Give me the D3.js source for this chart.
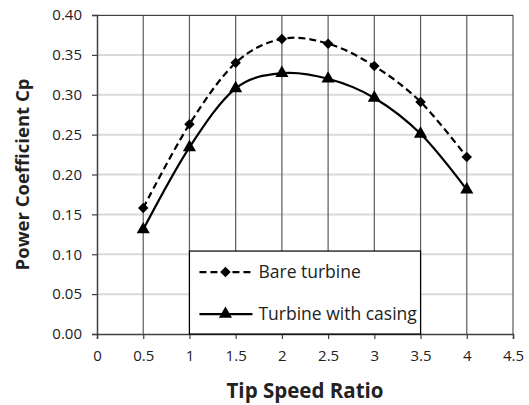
<!DOCTYPE html>
<html>
<head>
<meta charset="utf-8">
<script src="https://cdn.jsdelivr.net/npm/d3@7"></script>
<style>
  body { margin: 0; background: #fff; }
  svg text { font-family: "Open Sans", Lato, sans-serif; fill: #222; }
</style>
</head>
<body>
<div id="chart"></div>
<script>
// Data
const tsr = [0.5, 1, 1.5, 2, 2.5, 3, 3.5, 4];
const bareTurbine = [0.158, 0.263, 0.340, 0.370, 0.364, 0.336, 0.291, 0.222];
const withCasing = [0.131, 0.234, 0.308, 0.327, 0.320, 0.296, 0.251, 0.181];
const xTicks = [0, 0.5, 1, 1.5, 2, 2.5, 3, 3.5, 4, 4.5];
const yTicks = [0, 0.05, 0.10, 0.15, 0.20, 0.25, 0.30, 0.35, 0.40];
const seriesNames = ["Bare turbine", "Turbine with casing"];

const margin = {top: 15, right: 16, bottom: 71, left: 97};
const width = 529 - margin.left - margin.right;
const height = 405 - margin.top - margin.bottom;

const svg = d3.select("#chart")
    .append("svg")
    .attr("width", 529)
    .attr("height", 405)
    .append("g")
    .attr("transform", `translate(${margin.left},${margin.top})`);

const x = d3.scaleLinear().domain([0, 4.5]).range([0, width]);
const y = d3.scaleLinear().domain([0, 0.4]).range([height, 0]);

// horizontal gridlines (light)
svg.append("g")
    .selectAll("line")
    .data(yTicks.slice(1))
    .enter()
    .append("line")
    .attr("x1", 0).attr("x2", width)
    .attr("y1", d => y(d)).attr("y2", d => y(d))
    .attr("stroke", "#d9d9d9")
    .attr("stroke-width", 2);

// vertical gridlines (dark)
svg.append("g")
    .selectAll("line")
    .data(xTicks.slice(1))
    .enter()
    .append("line")
    .attr("x1", d => x(d)).attr("x2", d => x(d))
    .attr("y1", 0).attr("y2", height)
    .attr("stroke", "#595959")
    .attr("stroke-width", 1.2);

// top border
svg.append("line")
    .attr("x1", 0).attr("x2", width)
    .attr("y1", 0.5).attr("y2", 0.5)
    .attr("stroke", "#404040")
    .attr("stroke-width", 1.2);

// axes
const xAxis = svg.append("g")
    .attr("transform", `translate(0,${height})`)
    .call(d3.axisBottom(x).tickValues(xTicks).tickSize(5).tickPadding(11)
        .tickFormat(d => d3.format("")(d)));
const yAxis = svg.append("g")
    .call(d3.axisLeft(y).tickValues(yTicks).tickSize(5).tickPadding(10)
        .tickFormat(d3.format(".2f")));

[xAxis, yAxis].forEach(a => {
    a.select(".domain").attr("stroke", "#404040").attr("stroke-width", 1.5);
    a.selectAll(".tick line").attr("stroke", "#404040").attr("stroke-width", 1.2);
    a.selectAll("text").style("font-size", "15px").attr("fill", "#222");
});

// lines
const line = d3.line()
    .x((d, i) => x(tsr[i]))
    .y(d => y(d))
    .curve(d3.curveCatmullRom.alpha(0));

svg.append("path")
    .datum(bareTurbine)
    .attr("d", line)
    .attr("fill", "none")
    .attr("stroke", "#000")
    .attr("stroke-width", 2.2)
    .attr("stroke-dasharray", "7,4");

svg.append("path")
    .datum(withCasing)
    .attr("d", line)
    .attr("fill", "none")
    .attr("stroke", "#000")
    .attr("stroke-width", 2.2);

const diamond = d3.symbol().type(d3.symbolDiamond2).size(70);
const triangle = d3.symbol().type(d3.symbolTriangle).size(75);

svg.selectAll(".dia")
    .data(bareTurbine)
    .enter()
    .append("path")
    .attr("class", "dia")
    .attr("transform", (d, i) => `translate(${x(tsr[i])},${y(d)})`)
    .attr("d", diamond)
    .attr("fill", "#000");

svg.selectAll(".tri")
    .data(withCasing)
    .enter()
    .append("path")
    .attr("class", "tri")
    .attr("transform", (d, i) => `translate(${x(tsr[i])},${y(d)})`)
    .attr("d", triangle)
    .attr("fill", "#000");

// legend
const lx0 = x(1), lx1 = x(3.5);
const ly0 = y(0.104), ly1 = y(0);
const legend = svg.append("g");
legend.append("rect")
    .attr("x", lx0).attr("y", ly0)
    .attr("width", lx1 - lx0).attr("height", ly1 - ly0)
    .attr("fill", "#fff")
    .attr("stroke", "#000")
    .attr("stroke-width", 1.2);

const rows = [
    {name: seriesNames[0], dash: "7,4", sym: diamond, dy: 21},
    {name: seriesNames[1], dash: null, sym: triangle, dy: 63}
];
rows.forEach(r => {
    const g = legend.append("g").attr("transform", `translate(${lx0},${ly0 + r.dy})`);
    g.append("line")
        .attr("x1", 10).attr("x2", 63)
        .attr("stroke", "#000").attr("stroke-width", 2.2)
        .attr("stroke-dasharray", r.dash);
    g.append("path").attr("d", r.sym).attr("fill", "#000")
        .attr("transform", "translate(36,0)");
    g.append("text")
        .attr("x", 69).attr("dy", "0.35em")
        .style("font-size", "17.5px")
        .text(r.name);
});

// axis titles
svg.append("text")
    .attr("text-anchor", "middle")
    .attr("x", width / 2)
    .attr("y", height + 64)
    .style("font-size", "20.5px")
    .style("font-weight", "bold")
    .text("Tip Speed Ratio");

svg.append("text")
    .attr("text-anchor", "middle")
    .attr("transform", "rotate(-90)")
    .attr("x", -height / 2)
    .attr("y", -68)
    .style("font-size", "18.5px")
    .style("font-weight", "bold")
    .text("Power Coefficient Cp");
</script>
</body>
</html>
